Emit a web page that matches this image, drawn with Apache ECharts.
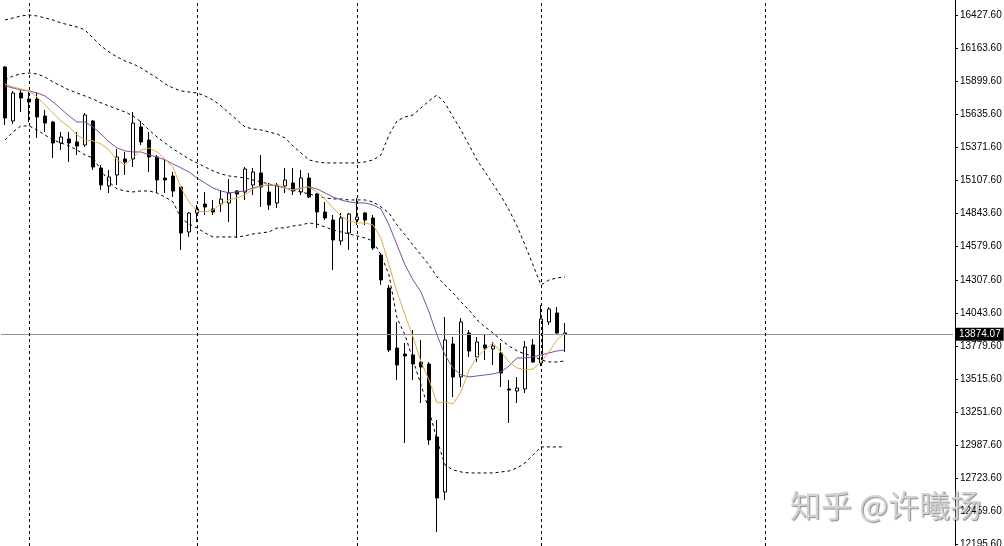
<!DOCTYPE html>
<html><head><meta charset="utf-8">
<script src="https://cdn.jsdelivr.net/npm/echarts@6/dist/echarts.min.js"></script>
<style>html,body{margin:0;padding:0;background:#fff}#c{width:1004px;height:546px}</style>
</head><body><div id="c"></div>
<script>
// ---- data ----
const opens = [16011.6,15579.6,15803.6,15755.6,15755.6,15619.6,15571.6,15403.6,15435.6,15411.6,
 15387.6,15579.6,15203.6,15059.6,15147.6,15275.6,15275.6,15531.6,15427.6,15291.6,
 15123.6,15139.6,15051.6,14691.6,14843.6,14915.6,14875.6,14915.6,14923.6,15019.6,
 15011.6,15067.6,15163.6,15011.6,14923.6,15059.6,15083.6,15011.6,15123.6,14995.6,
 14851.6,14787.6,14619.6,14683.6,14787.6,14843.6,14803.6,14507.6,14243.6,13763.6,
 13715.6,13707.6,13651.6,13635.6,13051.6,12611.6,13795.6,13531.6,13883.6,13691.6,
 13787.6,13755.6,13723.6,13435.6,13419.6,13435.6,13787.6,13643.6,13971.6,14043.6,
 13883.6];
const closes = [15603.6,15803.6,15763.6,15731.6,15611.6,15563.6,15403.6,15451.6,15403.6,15379.6,
 15627.6,15211.6,15067.6,15131.6,15291.6,15251.6,15563.6,15411.6,15291.6,15107.6,
 15107.6,15019.6,14683.6,14843.6,14875.6,14891.6,14851.6,14955.6,15003.6,14995.6,
 15195.6,15171.6,15051.6,14907.6,15067.6,15107.6,15019.6,15123.6,14971.6,14851.6,
 14803.6,14627.6,14803.6,14835.6,14811.6,14787.6,14563.6,14307.6,13747.6,13627.6,
 13699.6,13635.6,13611.6,13027.6,12563.6,13827.6,13531.6,13971.6,13739.6,13811.6,
 13763.6,13779.6,13563.6,13427.6,13443.6,13771.6,13651.6,13995.6,14075.6,13883.6,
 13874.07];
const lows = [15547.6,15555.6,15651.6,15571.6,15443.6,15491.6,15283.6,15347.6,15251.6,15307.6,
 15371.6,15187.6,15027.6,15003.6,15067.6,15147.6,15211.6,15387.6,15171.6,15003.6,
 15003.6,14971.6,14547.6,14651.6,14771.6,14827.6,14827.6,14851.6,14771.6,14643.6,
 14947.6,14987.6,14891.6,14867.6,14883.6,15003.6,14987.6,14987.6,14963.6,14723.6,
 14787.6,14387.6,14587.6,14547.6,14747.6,14747.6,14547.6,14267.6,13731.6,13507.6,
 13003.6,13507.6,13323.6,12987.6,12291.6,12547.6,13371.6,13451.6,13691.6,13651.6,
 13667.6,13627.6,13451.6,13163.6,13323.6,13403.6,13643.6,13619.6,13947.6,13867.6,
 13731.6];
const highs = [16019.6,15819.6,15827.6,15811.6,15811.6,15667.6,15579.6,15491.6,15491.6,15491.6,
 15643.6,15587.6,15227.6,15187.6,15355.6,15331.6,15651.6,15579.6,15491.6,15307.6,
 15267.6,15171.6,15059.6,14851.6,14907.6,15011.6,14947.6,15027.6,15115.6,15027.6,
 15211.6,15203.6,15307.6,15083.6,15083.6,15203.6,15203.6,15187.6,15163.6,15003.6,
 14931.6,14827.6,14843.6,14843.6,14963.6,14851.6,14827.6,14523.6,14267.6,13971.6,
 13803.6,13907.6,13827.6,13651.6,13187.6,14011.6,13851.6,14003.6,13907.6,13851.6,
 13867.6,13811.6,13803.6,13507.6,13531.6,13819.6,13835.6,14107.6,14091.6,14091.6,
 13963.6];
const bbUpper = [16388,16404,16420,16428,16420,16404,16388,16364,16348,16332,
 16308,16244,16180,16132,16092,16060,16036,16004,15964,15924,
 15876,15844,15820,15812,15804,15780,15748,15700,15644,15588,
 15532,15516,15508,15492,15476,15444,15380,15324,15268,15252,
 15244,15244,15244,15244,15244,15252,15268,15308,15468,15580,
 15612,15628,15684,15740,15788,15724,15612,15508,15388,15268,
 15172,15076,14980,14868,14740,14588,14428,14268,14308,14324,
 14332];
const bbMiddle = [15908,15940,15956,15964,15956,15932,15892,15860,15828,15804,
 15780,15756,15724,15700,15676,15652,15620,15572,15508,15452,
 15404,15356,15316,15276,15244,15212,15180,15156,15140,15132,
 15124,15108,15092,15076,15060,15044,15028,15012,14996,14980,
 14964,14956,14956,14948,14948,14948,14932,14892,14844,14748,
 14668,14588,14508,14428,14332,14268,14204,14132,14068,13988,
 13932,13884,13828,13780,13740,13716,13700,13668,13652,13652,
 13660];
const bbLower = [15428,15492,15540,15540,15508,15468,15428,15404,15380,15348,
 15308,15284,15188,15092,15036,15020,15012,15020,15020,15004,
 14972,14932,14804,14756,14724,14684,14652,14652,14652,14652,
 14660,14676,14684,14692,14724,14724,14740,14748,14764,14756,
 14732,14708,14692,14676,14660,14644,14620,14508,14348,14004,
 13868,13668,13468,13268,13028,12828,12788,12772,12764,12764,
 12764,12764,12772,12780,12804,12844,12908,12972,12972,12972,
 12972];
const maPurple = [15860,15844,15828,15820,15804,15780,15732,15676,15620,15572,
 15572,15532,15476,15412,15364,15340,15332,15332,15308,15292,
 15268,15236,15204,15172,15124,15084,15044,15020,15004,15012,
 15020,15044,15060,15068,15060,15044,15028,15044,15052,15036,
 15004,14972,14948,14932,14924,14924,14908,14876,14748,14588,
 14428,14308,14212,14052,13868,13708,13604,13548,13532,13540,
 13548,13556,13572,13620,13684,13684,13692,13708,13724,13740,
 13748];
const maOrange = [15876,15852,15836,15820,15772,15708,15644,15580,15532,15468,
 15428,15420,15396,15348,15268,15228,15284,15348,15364,15332,
 15276,15212,15044,14932,14860,14852,14868,14916,14948,14964,
 14988,15036,15060,15068,15068,15044,15028,15044,15052,15012,
 14956,14884,14820,14780,14764,14764,14748,14644,14428,14212,
 14028,13852,13652,13508,13324,13332,13316,13412,13588,13692,
 13748,13804,13732,13652,13604,13588,13596,13652,13732,13828,
 13884];
const yTicks = [16427.6,16163.6,15899.6,15635.6,15371.6,15107.6,14843.6,14579.6,14307.6,
 14043.6,13779.6,13515.6,13251.6,12987.6,12723.6,12459.6,12195.6];
const separatorBars = [3, 24, 44, 67, 95];
const lastPrice = 13874.07;
const totalSlots = 119;
const categories = Array.from({length: totalSlots}, (_, i) => String(i));

// ---- chart ----
const candles = opens.map((o, i) => [o, closes[i], lows[i], highs[i]]);
const chart = echarts.init(document.getElementById('c'), null, {renderer: 'canvas'});
const dashed = (data) => ({type: 'line', data, symbol: 'none', silent: true,
  lineStyle: {color: '#000', width: 1, type: [3, 3]}, z: 3});
chart.setOption({
  animation: false,
  backgroundColor: '#fff',
  grid: {left: 1, right: 51, top: 0, bottom: 0, containLabel: false, outerBoundsMode: 'none'},
  xAxis: {type: 'category', data: categories, boundaryGap: true,
    axisLine: {show: false}, axisTick: {show: false}, axisLabel: {show: false}, splitLine: {show: false}},
  yAxis: {type: 'value', position: 'right', offset: 2, min: 12179.6, max: 16547.6, scale: true,
    axisLine: {show: true, lineStyle: {color: '#000', width: 1}},
    axisTick: {show: true, length: 3, customValues: yTicks, lineStyle: {color: '#000'}},
    axisLabel: {show: true, customValues: yTicks, margin: 5, color: '#000', fontSize: 10,
      fontFamily: 'Liberation Sans', formatter: v => Number(v).toFixed(2)},
    splitLine: {show: false}},
  series: [
    {type: 'candlestick', data: candles, barWidth: 4, z: 2,
      itemStyle: {color: '#fff', color0: '#000', borderColor: '#000', borderColor0: '#000', borderWidth: 1},
      markLine: {symbol: ['none', 'none'], silent: true, animation: false, label: {show: false},
        data: [
          {yAxis: lastPrice, lineStyle: {color: '#8598a4', type: 'solid', width: 1},
            label: {show: true, position: 'end', distance: 3, formatter: '13874.07', color: '#fff',
              backgroundColor: '#000', padding: [2, 3, 1, 3], fontSize: 10, fontFamily: 'Liberation Sans'}},
          ...separatorBars.map(i => ({xAxis: String(i), lineStyle: {color: '#000', type: [3, 3], width: 1}}))
        ]}},
    dashed(bbUpper), dashed(bbMiddle), dashed(bbLower),
    {type: 'line', data: maPurple, symbol: 'none', silent: true, lineStyle: {color: '#7b4f9e', width: 1}, z: 4},
    {type: 'line', data: maOrange, symbol: 'none', silent: true, lineStyle: {color: '#e3aa4a', width: 1}, z: 5}
  ],
  graphic: [{type: 'text', left: 790, top: 490, z: 100, silent: true,
    style: {text: '知乎 @许曦扬', font: '31px "Noto Sans CJK SC"', fill: '#d2d2d2',
      textShadowColor: 'rgba(0,0,0,0.45)', textShadowOffsetX: 1, textShadowOffsetY: 1, textShadowBlur: 1}}]
});
</script></body></html>
